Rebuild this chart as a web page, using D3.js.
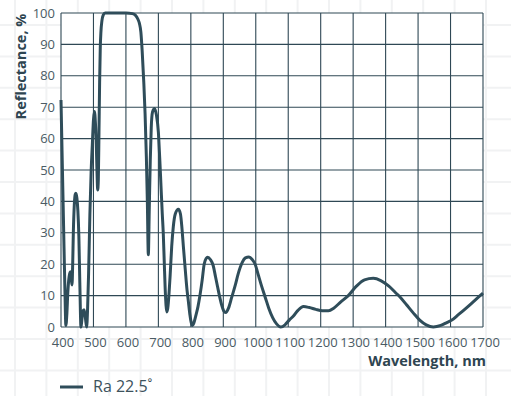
<!DOCTYPE html>
<html>
<head>
<meta charset="utf-8">
<script src="https://cdn.jsdelivr.net/npm/d3@7"></script>
<style>
  body { margin: 0; background: #fff; }
  svg { display: block; font-family: "Open Sans", sans-serif; }
</style>
</head>
<body>
<div id="chart"></div>
<script>
const width = 511;
const height = 396;
const margin = { top: 13, right: 28, bottom: 69, left: 61 };

// values
const wavelength = [
  400, 404, 408, 412, 415, 418, 421, 425, 429, 432, 434, 436, 438, 441, 444, 446,
  449, 452, 455, 458, 461.5, 464, 467, 471, 475, 479, 482, 485, 489, 493, 496.5,
  500, 503, 506, 509, 511, 513, 515, 517, 519, 521, 523, 526, 530, 536, 560, 600,
  620, 630, 637, 642, 646, 650, 655, 659, 663, 666, 669, 672, 675, 678, 682, 688,
  694, 700, 704, 708, 712, 715, 718, 721, 723.5, 726, 729, 733, 736, 741, 746, 752,
  761.5, 768, 773, 777, 783, 788, 792, 797, 801, 805, 809, 815, 822, 828, 835, 841,
  847, 852, 860, 869, 876, 882, 888, 895, 901, 907.5, 916, 926, 936, 946, 958, 968,
  979, 989, 998, 1008, 1018, 1029, 1040, 1052, 1064, 1077, 1090, 1103, 1116, 1130,
  1147, 1165, 1185, 1205, 1224, 1240, 1262, 1285, 1310, 1335, 1362, 1385, 1410,
  1430, 1445, 1465, 1485, 1505, 1525, 1547, 1570, 1590, 1604, 1625, 1650, 1675, 1700
];
const reflectance = [
  72.3, 52, 32, 12, 0.5, 4, 11, 16, 17.6, 15, 13.4, 20, 30, 39, 42.3, 42.6,
  41, 37, 29, 14, 0, 2, 5, 5.5, 3, 0, 6, 17, 36, 50, 58,
  66, 68.6, 65, 57, 49, 43.6, 47, 62, 78, 89, 94, 97.5, 99.3, 100, 100, 100,
  99.8, 99.2, 98, 96.5, 94, 88, 78, 68, 54, 40, 23, 38, 53, 63.5, 68.5, 69.6,
  67.5, 62, 54, 45, 36, 30, 21, 12, 7, 4.8, 6, 11, 16, 25.6, 32, 36,
  37.5, 36, 31, 25.6, 18, 12, 8.5, 4, 1.5, 0.5, 1.2, 3.5, 6.5, 10, 15, 20,
  21.8, 22.2, 21.5, 19.5, 16, 13, 10, 7, 5.2, 4.6, 6, 9.5, 13, 17, 20.5, 22,
  22.3, 21.5, 20, 16.5, 13, 9.5, 6, 3, 1, 0, 0.7, 2.2, 3.5, 5.3,
  6.5, 6.2, 5.6, 5.2, 5.2, 6, 8, 10, 13, 15, 15.5, 14.8, 13,
  11, 9.5, 7, 4.5, 2.2, 0.7, 0, 0.5, 1.5, 2.2, 4, 6.2, 8.5, 10.8
];
const xTicks = [400, 500, 600, 700, 800, 900, 1000, 1100, 1200, 1300, 1400, 1500, 1600, 1700];
const yTicks = [0, 10, 20, 30, 40, 50, 60, 70, 80, 90, 100];
const seriesName = "Ra 22.5˚";

const data = wavelength.map((w, i) => ({ w: w, r: reflectance[i] }));

const svg = d3.select("#chart")
  .append("svg")
  .attr("width", width)
  .attr("height", height);

// faint paper grid in the background
const paper = svg.append("g").attr("stroke", "#f1f2f3").attr("stroke-width", 2);
d3.range(15, width, 31.4).forEach((x) => {
  paper.append("line").attr("x1", x).attr("x2", x).attr("y1", 0).attr("y2", height);
});
d3.range(25, height, 31.4).forEach((y) => {
  paper.append("line").attr("x1", 0).attr("x2", width).attr("y1", y).attr("y2", y);
});

const x = d3.scaleLinear()
  .domain([400, 1700])
  .range([margin.left, width - margin.right]);
const y = d3.scaleLinear()
  .domain([0, 100])
  .range([height - margin.bottom, margin.top]);

// plot background + grid
svg.append("rect")
  .attr("x", margin.left)
  .attr("y", margin.top)
  .attr("width", width - margin.left - margin.right)
  .attr("height", height - margin.top - margin.bottom)
  .attr("fill", "#fff");

const grid = svg.append("g").attr("stroke", "#2f4855").attr("stroke-width", 1.1);
grid.selectAll(".vline")
  .data(xTicks)
  .enter()
  .append("line")
  .attr("x1", (d) => x(d))
  .attr("x2", (d) => x(d))
  .attr("y1", y(0))
  .attr("y2", y(100));
grid.selectAll(".hline")
  .data(yTicks)
  .enter()
  .append("line")
  .attr("x1", x(400))
  .attr("x2", x(1700))
  .attr("y1", (d) => y(d))
  .attr("y2", (d) => y(d));

// tick labels
const xAxis = svg.append("g")
  .attr("transform", `translate(1.5, ${height - margin.bottom})`)
  .call(d3.axisBottom(x).tickValues(xTicks).tickFormat(d3.format("d")).tickSize(0).tickPadding(11));
const yAxis = svg.append("g")
  .attr("transform", `translate(${margin.left}, 0)`)
  .call(d3.axisLeft(y).tickValues(yTicks).tickFormat(d3.format("d")).tickSize(0).tickPadding(6));
[xAxis, yAxis].forEach((a) => {
  a.select(".domain").remove();
  a.selectAll("text")
    .attr("fill", "#4a5b64")
    .style("font-size", "13px")
    .style("font-family", "Open Sans, sans-serif");
});

// the curve
const line = d3.line()
  .x((d) => x(d.w))
  .y((d) => y(d.r))
  .curve(d3.curveMonotoneX);

svg.append("path")
  .datum(data)
  .attr("fill", "none")
  .attr("stroke", "#2f4d5a")
  .attr("stroke-width", 3)
  .attr("stroke-linejoin", "round")
  .attr("d", line);

// axis titles
svg.append("text")
  .attr("transform", `translate(26, 66.5) rotate(-90)`)
  .attr("text-anchor", "middle")
  .attr("fill", "#2e4551")
  .style("font-size", "14.5px")
  .style("font-weight", "bold")
  .text("Reflectance, %");

svg.append("text")
  .attr("x", 486)
  .attr("y", 366)
  .attr("text-anchor", "end")
  .attr("fill", "#2e4551")
  .style("font-size", "14.5px")
  .style("font-weight", "bold")
  .text("Wavelength, nm");

// legend
const legend = svg.append("g").attr("transform", "translate(60, 387)");
legend.append("line")
  .attr("x1", 0)
  .attr("x2", 23)
  .attr("y1", 0)
  .attr("y2", 0)
  .attr("stroke", "#2f4d5a")
  .attr("stroke-width", 3);
legend.append("text")
  .attr("x", 33)
  .attr("y", 4.5)
  .attr("fill", "#3d525c")
  .style("font-size", "16px")
  .text(seriesName);
</script>
</body>
</html>
